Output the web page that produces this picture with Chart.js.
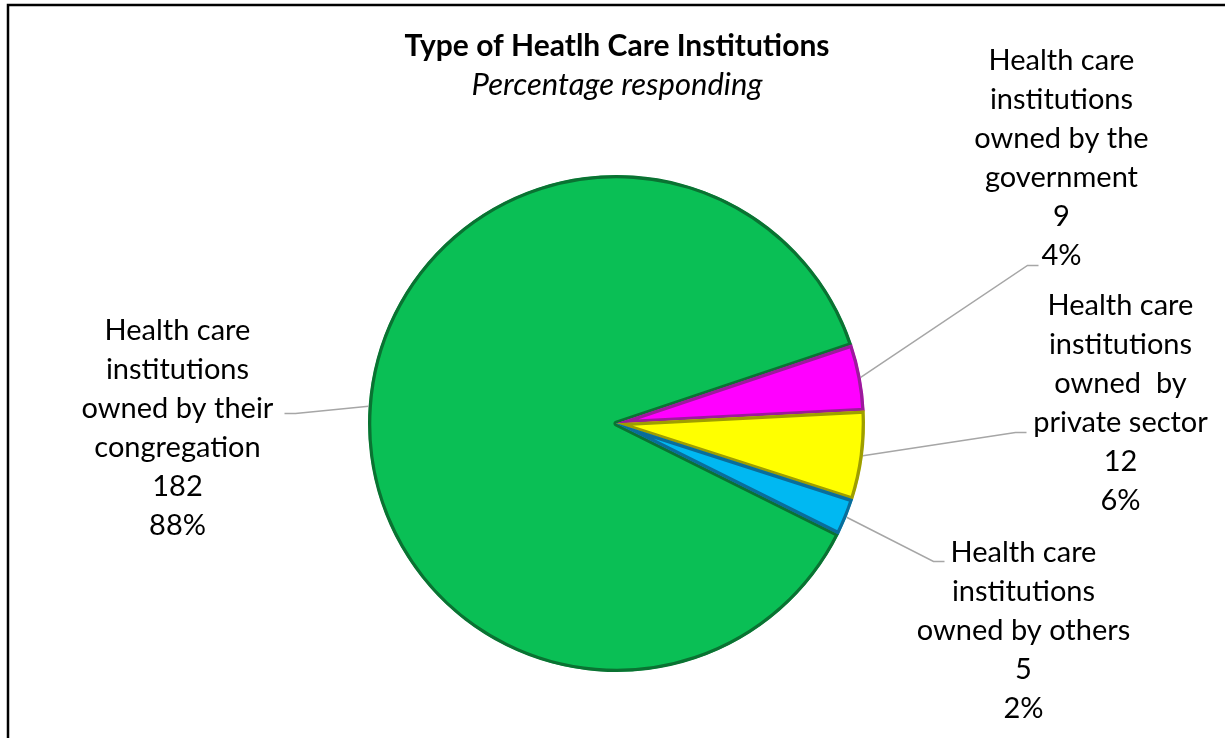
<!DOCTYPE html>
<html>
<head>
<meta charset="utf-8">
<script src="https://cdn.jsdelivr.net/npm/chart.js@4.4.0/dist/chart.umd.min.js"></script>
<style>
  html, body { margin: 0; padding: 0; background: #fff; }
  #wrap { width: 1225px; height: 738px; }
</style>
</head>
<body>
<div id="wrap"><canvas id="pie-chart" width="1225" height="738"></canvas></div>
<script>
// data
const categories = [
    ["Health care", "institutions", "owned by their", "congregation"],
    ["Health care", "institutions", "owned by the", "government"],
    ["Health care", "institutions", "owned  by", "private sector"],
    ["Health care", "institutions", "owned by others"]
];
const counts = [182, 9, 12, 5];
const fillColors = ["#0abf55", "#ff00ff", "#ffff00", "#00b8f2"];
const edgeColors = ["#0a7232", "#9c1a9c", "#9e9e00", "#0a6d9a"];

const total = counts.reduce((a, b) => a + b, 0);
const percents = counts.map(v => Math.round(v / total * 100) + '%');

// where each label sits, relative to the pie centre (text centre x, first line y, elbow of leader)
const labelSpots = [
    { tx: -439, ty: -93,  ex: -321, ey: -10,  side: -1 },
    { tx: 445,  ty: -363, ex: 411,  ey: -158, side: 1 },
    { tx: 504,  ty: -118, ex: 399,  ey: 9,    side: 1 },
    { tx: 407,  ty: 129,  ex: 317,  ey: 138,  side: 1 }
];

const FONT = 'Lato, "Open Sans", sans-serif';

const framePlugin = {
    id: 'frame',
    beforeDraw(chart) {
        const c = chart.ctx;
        c.save();
        c.fillStyle = '#fff';
        c.fillRect(0, 0, chart.width, chart.height);
        c.strokeStyle = '#000';
        c.lineWidth = 2.5;
        c.strokeRect(8, 5, chart.width + 50, chart.height + 50);
        c.restore();
    }
};

const labelPlugin = {
    id: 'outLabels',
    afterDraw(chart) {
        const c = chart.ctx;
        const arcs = chart.getDatasetMeta(0).data;
        c.save();
        // title
        c.fillStyle = '#000';
        c.textAlign = 'center';
        c.textBaseline = 'middle';
        c.font = 'bold 30px ' + FONT;
        c.fillText('Type of Heatlh Care Institutions', 617, 46);
        c.font = 'italic 31px ' + FONT;
        c.fillText('Percentage responding', 617, 85);

        arcs.forEach((arc, i) => {
            const cx = arc.x, cy = arc.y;
            const mid = (arc.startAngle + arc.endAngle) / 2;
            const r = arc.outerRadius;
            const sp = labelSpots[i];
            // leader line
            c.strokeStyle = '#a6a6a6';
            c.lineWidth = 1.5;
            c.beginPath();
            c.moveTo(cx + Math.cos(mid) * r, cy + Math.sin(mid) * r);
            c.lineTo(cx + sp.ex, cy + sp.ey);
            c.lineTo(cx + sp.ex + sp.side * 11, cy + sp.ey);
            c.stroke();
            // text
            const lines = categories[i].concat([String(counts[i]), percents[i]]);
            c.fillStyle = '#000';
            c.font = '29px ' + FONT;
            lines.forEach((t, k) => {
                c.fillText(t, cx + sp.tx, cy + sp.ty + k * 39);
            });
        });
        c.restore();
    }
};

const ctx = document.getElementById('pie-chart').getContext('2d');
const chart = new Chart(ctx, {
    type: 'pie',
    data: {
        labels: categories.map(l => l.join(' ')),
        datasets: [{
            data: counts,
            backgroundColor: fillColors,
            borderColor: edgeColors,
            borderWidth: 3,
            borderAlign: 'inner'
        }]
    },
    options: {
        responsive: false,
        animation: false,
        devicePixelRatio: 1,
        rotation: 116.5,
        layout: {
            padding: { top: 175, bottom: 66, left: 300, right: 292 }
        },
        plugins: {
            legend: { display: false },
            tooltip: { enabled: false }
        }
    },
    plugins: [framePlugin, labelPlugin]
});
</script>
</body>
</html>
